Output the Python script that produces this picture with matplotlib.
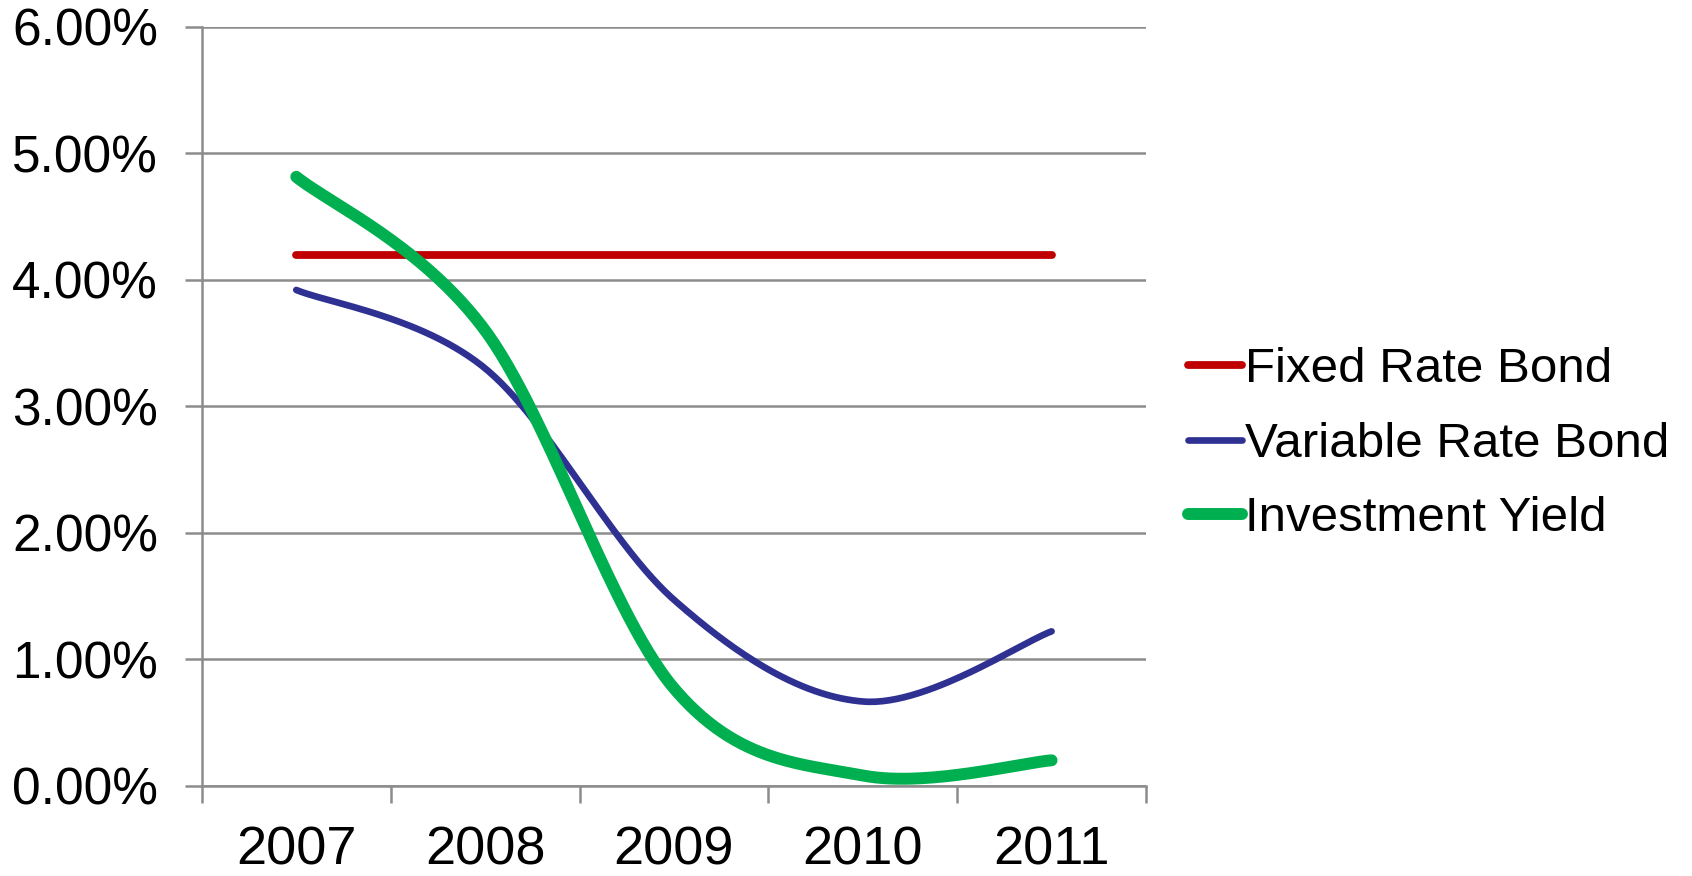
import numpy as np
import matplotlib
matplotlib.use("Agg")
import matplotlib.pyplot as plt
from matplotlib.ticker import FixedLocator, StrMethodFormatter, NullFormatter

years = ["2007", "2008", "2009", "2010", "2011"]
fixed_rate = [4.20, 4.20, 4.20, 4.20, 4.20]
variable_rate = [3.92, 3.30, 1.47, 0.665, 1.22]
investment_yield = [4.815, 3.60, 0.77, 0.08, 0.20]

series_names = ["Fixed Rate Bond", "Variable Rate Bond", "Investment Yield"]
series_colors = ["#C00000", "#2E3192", "#00B050"]
series_widths = [5.6, 4.8, 8.6]


def smooth(xs, ys, n=60):
    """Spreadsheet-style smoothed line: cubic Bezier segments whose control
    points follow the neighbouring points (tension 1/6)."""
    xs = np.asarray(xs, float)
    ys = np.asarray(ys, float)
    px = np.concatenate([[xs[0]], xs, [xs[-1]]])
    py = np.concatenate([[ys[0]], ys, [ys[-1]]])
    out_x, out_y = [], []
    t = np.linspace(0, 1, n)
    for i in range(1, len(px) - 2):
        p0 = np.array([px[i], py[i]])
        p3 = np.array([px[i + 1], py[i + 1]])
        c1 = p0 + (np.array([px[i + 1], py[i + 1]]) - np.array([px[i - 1], py[i - 1]])) / 6
        c2 = p3 - (np.array([px[i + 2], py[i + 2]]) - np.array([px[i], py[i]])) / 6
        bx = ((1 - t) ** 3 * p0[0] + 3 * (1 - t) ** 2 * t * c1[0]
              + 3 * (1 - t) * t ** 2 * c2[0] + t ** 3 * p3[0])
        by = ((1 - t) ** 3 * p0[1] + 3 * (1 - t) ** 2 * t * c1[1]
              + 3 * (1 - t) * t ** 2 * c2[1] + t ** 3 * p3[1])
        out_x.append(bx)
        out_y.append(by)
    return np.concatenate(out_x), np.concatenate(out_y)


plt.rcParams["font.family"] = ["Liberation Sans", "DejaVu Sans"]

fig = plt.figure(figsize=(16.92, 8.76), dpi=100)
ax = fig.add_axes([0.1193, 0.1032, 0.5580, 0.8660])

x = np.arange(len(years))
for vals, name, col, lw in zip([fixed_rate, variable_rate, investment_yield],
                               series_names, series_colors, series_widths):
    sx, sy = smooth(x, vals)
    ax.plot(sx, sy, color=col, lw=lw, label=name,
            solid_capstyle="round", solid_joinstyle="round", zorder=3)

ax.set_xlim(-0.5, len(years) - 0.5)
ax.set_ylim(0, 6)

grid_color = "#8C8C8C"
ax.yaxis.set_major_locator(FixedLocator(np.arange(0, 7, 1)))
ax.yaxis.set_major_formatter(StrMethodFormatter("{x:.2f}%"))
ax.grid(axis="y", color=grid_color, lw=1.8, zorder=0)

ax.xaxis.set_major_locator(FixedLocator(np.arange(-0.5, len(years), 1)))
ax.xaxis.set_major_formatter(NullFormatter())
ax.xaxis.set_minor_locator(FixedLocator(x))
ax.set_xticklabels(years, minor=True)

ax.tick_params(axis="y", which="major", length=12, width=1.8, color=grid_color,
               direction="out", pad=19.5, labelsize=37)
ax.tick_params(axis="x", which="major", length=12, width=1.8, color=grid_color,
               direction="out")
ax.tick_params(axis="x", which="minor", length=0, pad=29, labelsize=39)

for side in ("top", "right"):
    ax.spines[side].set_visible(False)
for side in ("left", "bottom"):
    ax.spines[side].set_color(grid_color)
    ax.spines[side].set_linewidth(1.8)

leg = fig.legend(loc="center left", bbox_to_anchor=(0.702, 0.4927),
                 frameon=False, fontsize=35.5, handlelength=1.1,
                 handletextpad=0.07, labelspacing=0.6, borderpad=0,
                 borderaxespad=0)
for line in leg.get_lines():
    line.set_solid_capstyle("round")

fig.savefig("out.png", dpi=100)
